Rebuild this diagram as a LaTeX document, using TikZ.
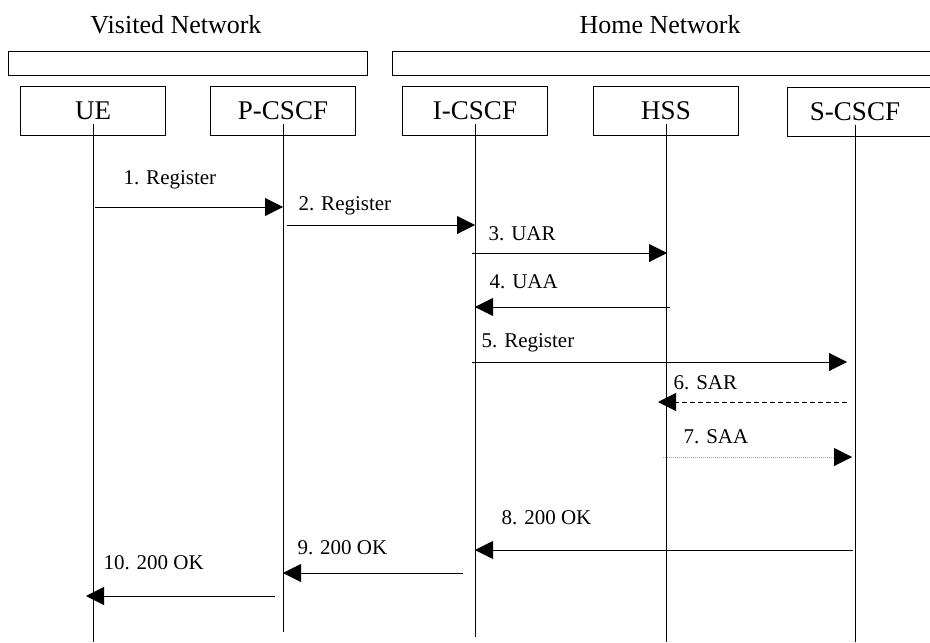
\documentclass[tikz,border=0pt]{standalone}
\usepackage{fontspec}
\setmainfont{Liberation Serif}
\usetikzlibrary{arrows.meta, positioning}

\begin{document}
\begin{tikzpicture}[x=0.5pt, y=-0.5pt, >={Triangle[length=9pt, width=9pt]}, line width=0.5pt,
  entity/.style={draw, rectangle, minimum width=72.5pt, minimum height=24pt, inner sep=0pt, font=\fontsize{13.5}{16}\selectfont},
  netbar/.style={draw, rectangle, minimum height=12pt, inner sep=0pt},
  msg/.style={->},
  lbl/.style={anchor=west, inner sep=0pt, font=\fontsize{10.5}{12}\selectfont}]
  \useasboundingbox (0,0) rectangle (930,642);

  % Networks
  \node[font=\fontsize{13}{16}\selectfont] (vtitle) at (176,25) {Visited Network};
  \node[font=\fontsize{13}{16}\selectfont] (htitle) at (660,25) {Home Network};
  \node[netbar, minimum width=179.5pt] (visited) at (187.5,64) {};
  \node[netbar, minimum width=275pt, anchor=west] (home) at (392,64) {};

  % Nodes
  \node[entity] (ue) at (93,111) {UE};
  \node[entity] (pcscf) at (283,111) {P-CSCF};
  \node[entity] (icscf) at (475,111) {I-CSCF};
  \node[entity] (hss) at (666,111) {HSS};
  \node[entity, minimum width=75pt] (scscf) at (862,112) {S-CSCF\hspace*{7pt}};

  % Lifelines
  \foreach \n/\dx/\e in {ue/0/642, pcscf/0/632, icscf/0/637, hss/0/642, scscf/-3.5/642} {
    \coordinate (\n-l) at ([xshift=\dx pt, yshift=6pt]\n.south);
    \coordinate (\n-e) at (\n-l |- 0,\e);
    \draw (\n-l) -- (\n-e);
  }

  % Labels
  \node[lbl] (m1) at (123,180) {1. Register};
  \node[lbl] (m2) at (298,206) {2. Register};
  \node[lbl] (m3) at (488,234) {3. UAR};
  \node[lbl] (m4) at (489,282) {4. UAA};
  \node[lbl] (m5) at (481,343) {5. Register};
  \node[lbl] (m6) at (673,383) {6. SAR};
  \node[lbl] (m7) at (683,437) {7. SAA};
  \node[lbl] (m8) at (501,518) {8. 200 OK};
  \node[lbl] (m9) at (297,548) {9. 200 OK};
  \node[lbl] (m10) at (103,563) {10. 200 OK};

  % Connections
  \draw[msg] ([xshift=1pt]ue-l |- 0,207) -- (pcscf-l |- 0,207);
  \draw[msg] ([xshift=2pt]pcscf-l |- 0,225) -- (icscf-l |- 0,225);
  \draw[msg] ([xshift=-1.5pt]icscf-l |- 0,253) -- ([xshift=0.5pt]hss-l |- 0,253);
  \draw[msg] ([xshift=2pt]hss-l |- 0,307) -- (icscf-l |- 0,307);
  \draw[msg] ([xshift=-1.5pt]icscf-l |- 0,362) -- ([xshift=-4pt]scscf-l |- 0,362);
  \draw[msg, dash pattern=on 2.5pt off 1.5pt] ([xshift=-4pt]scscf-l |- 0,402) -- ([xshift=-4pt]hss-l |- 0,402);
  \draw[msg, gray!70, dash pattern=on 0.5pt off 0.5pt, {-{Triangle[length=9pt, width=9pt, black]}}] ([xshift=-1.5pt]hss-l |- 0,457) -- ([xshift=-1.5pt]scscf-l |- 0,457);
  \draw[msg] ([xshift=-1pt]scscf-l |- 0,550) -- (icscf-l |- 0,550);
  \draw[msg] ([xshift=-6pt]icscf-l |- 0,573) -- (pcscf-l |- 0,573);
  \draw[msg] ([xshift=-4pt]pcscf-l |- 0,596) -- ([xshift=-3.5pt]ue-l |- 0,596);
\end{tikzpicture}
\end{document}
